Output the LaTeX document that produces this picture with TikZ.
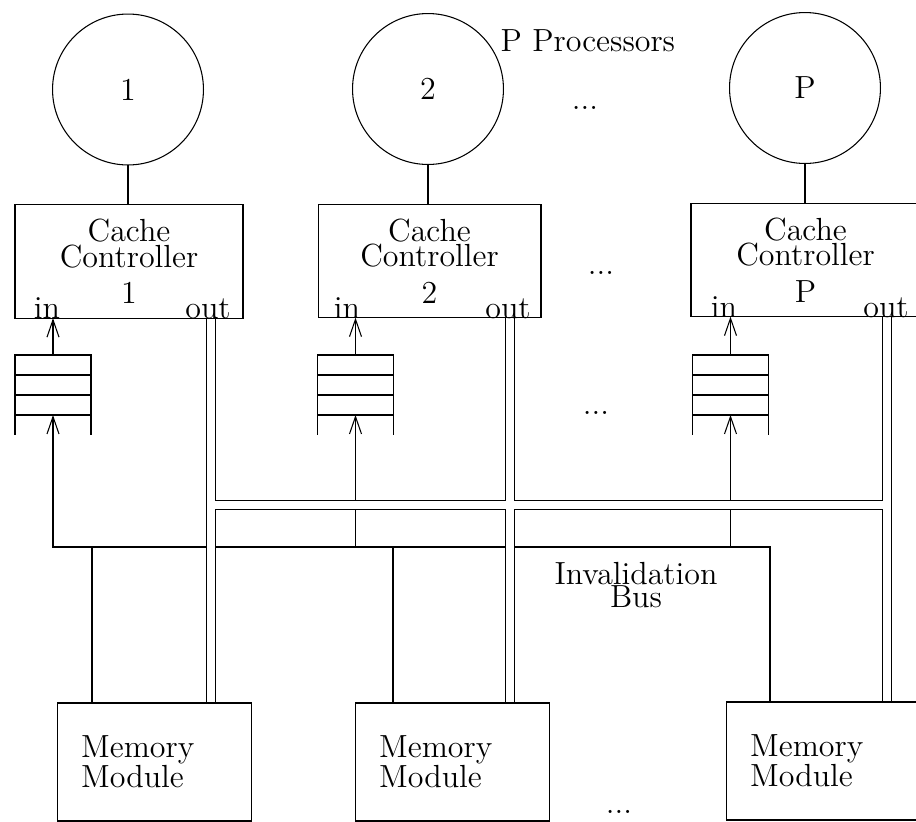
\documentclass[tikz,border=0pt]{standalone}
\usepackage{tikz}
\usetikzlibrary{arrows.meta}
\pgfdeclarelayer{back}
\pgfdeclarelayer{front}
\pgfsetlayers{back,main,front}

\begin{document}
\begin{tikzpicture}[x=0.375pt,y=-0.375pt,line width=0.7pt,
  proc/.style={draw,circle,minimum size=56.6pt,inner sep=0pt,outer sep=0pt,font=\large},
  ccbox/.style={draw,minimum height=42.5pt,inner sep=0pt,outer sep=0pt,align=center,font=\fontsize{12}{9.6}\selectfont},
  fifo/.style={draw,minimum width=28.5pt,minimum height=22.5pt,inner sep=0pt,outer sep=0pt},
  membox/.style={draw,minimum height=44.25pt,text width=55pt,inner xsep=9pt,inner ysep=0pt,outer sep=0pt,align=left,font=\fontsize{12}{11.25}\selectfont},
  port/.style={anchor=base,inner sep=0pt,font=\large},
  lbl/.style={inner sep=0pt,font=\large},
  arr/.style={-{Straight Barb[length=6.5pt,width=4.5pt]}},
  pipe/.style={double,double distance=3pt}]
\useasboundingbox (0,0) rectangle (916,822);

\begin{pgfonlayer}{front}
% processors
\node[proc] (p1) at (128,89.5) {1};
\node[proc] (p2) at (428,89) {2};
\node[proc] (pP) at (805,88) {P};
\node[lbl,anchor=base west] (ptitle) at (500,51) {P Processors};
\node[lbl,anchor=base] (dots1) at (585,109) {...};
% cache controllers
\node[ccbox,minimum width=85.5pt] (cc1) at (129,261.5) {Cache\\Controller\\[4pt]1};
\node[ccbox,minimum width=83.6pt] (cc2) at (429.5,261) {Cache\\Controller\\[4pt]2};
\node[ccbox,minimum width=85.9pt] (ccP) at (805.5,260) {Cache\\Controller\\[4pt]P};
\node[lbl,anchor=base] (dots2) at (601,274) {...};
\node[port] (in1) at (47,318) {in};
\node[port] (out1) at (208,318) {out};
\node[port] (in2) at (347,318) {in};
\node[port] (out2) at (508,318) {out};
\node[port] (inP) at (724,317) {in};
\node[port] (outP) at (886,317) {out};
% input queues
\node[fifo] (q1) at (53,385) {};
\node[fifo] (q2) at (355.5,385) {};
\node[fifo] (qP) at (730.5,385) {};
\node[lbl,anchor=base] (dots3) at (596,414) {...};
% memory modules
\node[membox] (mm1) at (154.5,762) {Memory\\Module};
\node[membox] (mm2) at (452.5,762) {Memory\\Module};
\node[membox] (mmP) at (823.5,761) {Memory\\Module};
\node[lbl,anchor=base] (dots4) at (619,813) {...};
\node[lbl,align=center,font=\fontsize{12}{8.8}\selectfont] (ibus) at (636,585) {Invalidation\\Bus};
\end{pgfonlayer}

% queue slots
\foreach \q in {q1,q2,qP}{
  \draw ([yshift=3.75pt]\q.west) -- ([yshift=3.75pt]\q.east)
        ([yshift=-3.75pt]\q.west) -- ([yshift=-3.75pt]\q.east);
  \draw (\q.south west) -- ++(0,20) (\q.south east) -- ++(0,20);
}

\draw (p1.south) -- (p1.south |- cc1.north);
\draw (p2.south) -- (p2.south |- cc2.north);
\draw (pP.south) -- (pP.south |- ccP.north);
\draw[arr] (q1.north) -- (q1.north |- cc1.south);
\draw[arr] (q2.north) -- (q2.north |- cc2.south);
\draw[arr] (qP.north) -- (qP.north |- ccP.south);

% invalidation bus
\coordinate (ib) at (770,547);
\coordinate (d1) at (92,547);
\coordinate (d2) at (393,547);
\begin{pgfonlayer}{back}
\draw[arr] (ib |- mmP.north) -- (ib) -- (q1 |- ib) -- (q1.south);
\draw[arr] (q2 |- ib) -- (q2.south);
\draw[arr] (qP |- ib) -- (qP.south);
\draw (d1) -- (d1 |- mm1.north) (d2) -- (d2 |- mm2.north);
\end{pgfonlayer}

% out lines and bus
\coordinate (o1) at (211,318);
\coordinate (o2) at (510,318);
\coordinate (oP) at (887,317);
\coordinate (bus) at (0,505);
\draw[pipe] (o1) -- (o1 |- mm1.north) (o2) -- (o2 |- mm2.north)
  (oP) -- (oP |- mmP.north) (o1 |- bus) -- (oP |- bus);
\end{tikzpicture}
\end{document}
